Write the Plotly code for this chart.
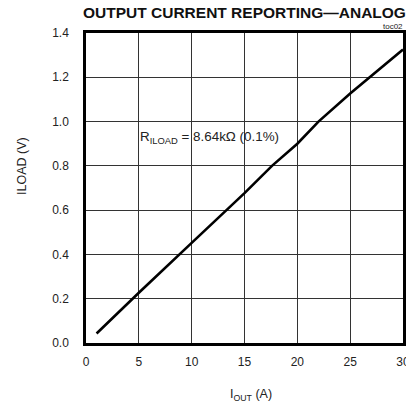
import plotly.graph_objects as go

iout = [1, 5, 10, 15, 17.6, 20, 22, 25, 30]
iload = [0.043, 0.227, 0.452, 0.677, 0.80, 0.90, 1.0, 1.127, 1.325]

x_ticks = [0, 5, 10, 15, 20, 25, 30]
y_ticks = [0.0, 0.2, 0.4, 0.6, 0.8, 1.0, 1.2, 1.4]
y_tick_text = ["0.0", "0.2", "0.4", "0.6", "0.8", "1.0", "1.2", "1.4"]

FONT = "Liberation Sans, Arial, sans-serif"
GRID = "#333333"

fig = go.Figure()
fig.add_trace(go.Scatter(x=iout, y=iload, mode="lines",
                         line=dict(color="black", width=2.6), showlegend=False))

fig.update_layout(
    width=406, height=400,
    margin=dict(l=78, r=11, t=25, b=65, autoexpand=False),
    paper_bgcolor="white", plot_bgcolor="white",
    font=dict(family=FONT, size=12, color="#222"),
    xaxis=dict(range=[0, 30], tickmode="array", tickvals=x_ticks,
               zeroline=False, automargin=False, showgrid=True,
               gridcolor=GRID, gridwidth=1.3,
               showline=True, linecolor="black", linewidth=2.5, mirror=True,
               ticks="outside", ticklen=6, tickcolor="white"),
    yaxis=dict(range=[0, 1.4], tickmode="array", tickvals=y_ticks,
               ticktext=y_tick_text, automargin=False, zeroline=False,
               showgrid=True, gridcolor=GRID, gridwidth=1.3,
               showline=True, linecolor="black", linewidth=2.5, mirror=True,
               ticks="outside", ticklen=12, tickcolor="white"),
    annotations=[
        dict(text="<b>OUTPUT CURRENT REPORTING—ANALOG</b>", x=0.5, y=1.0,
             xref="paper", yref="paper", xanchor="center", yanchor="bottom",
             yshift=10, showarrow=False,
             font=dict(size=15.5, color="#111", family=FONT)),
        dict(text="toc02", x=1.0, y=1.0, xref="paper", yref="paper",
             xanchor="right", yanchor="bottom", xshift=2, showarrow=False,
             font=dict(size=8, color="#222", family=FONT)),
        dict(text="R<sub>ILOAD</sub> = 8.64kΩ (0.1%)", x=4.9, y=0.927,
             xref="x", yref="y", xanchor="left", yanchor="middle",
             showarrow=False, font=dict(size=13.4, color="#222", family=FONT)),
        dict(text="I<sub>OUT</sub> (A)", x=0.52, y=-0.168, xref="paper",
             yref="paper", xanchor="center", yanchor="middle",
             showarrow=False, font=dict(size=12.5, color="#222", family=FONT)),
        dict(text="ILOAD (V)", x=-0.202, y=0.571, xref="paper", yref="paper",
             xanchor="center", yanchor="middle", textangle=-90,
             showarrow=False, font=dict(size=12.5, color="#222", family=FONT)),
    ],
)

fig.write_html("out.html")
